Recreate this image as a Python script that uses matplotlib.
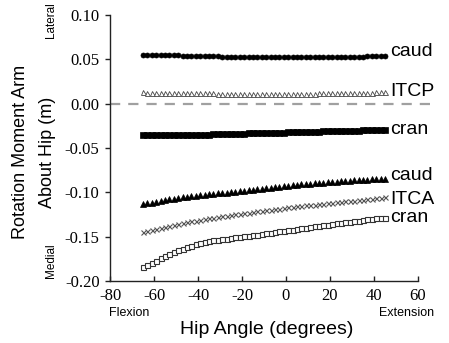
import matplotlib
matplotlib.use("Agg")
import matplotlib.pyplot as plt

plt.rcParams['axes.unicode_minus'] = False

# Hip angle (degrees)
hip_angle = [-65, -63, -61, -59, -57, -55, -53, -51,
             -49, -47, -45, -43, -41, -39, -37, -35,
             -33, -31, -29, -27, -25, -23, -21, -19,
             -17, -15, -13, -11, -9, -7, -5, -3,
             -1, 1, 3, 5, 7, 9, 11, 13,
             15, 17, 19, 21, 23, 25, 27, 29,
             31, 33, 35, 37, 39, 41, 43, 45]

itcp_caud = [.0552, .0551, .0551, .0549, .0548, .0546, .0546, .0545,
             .0544, .0541, .0539, .0539, .0537, .0536, .0535, .0534,
             .0533, .0532, .0531, .0531, .0530, .0529, .0528, .0527,
             .0526, .0526, .0525, .0525, .0525, .0524, .0524, .0524,
             .0524, .0523, .0523, .0522, .0522, .0522, .0523, .0523,
             .0522, .0521, .0521, .0522, .0523, .0524, .0526, .0527,
             .0528, .0530, .0531, .0533, .0535, .0537, .0539, .0541]

itcp_mid = [.0126, .0125, .0125, .0124, .0123, .0122, .0122, .0121,
            .0121, .0120, .0119, .0119, .0118, .0117, .0116, .0116,
            .0115, .0114, .0114, .0113, .0113, .0112, .0112, .0112,
            .0111, .0111, .0111, .0111, .0110, .0110, .0110, .0111,
            .0111, .0111, .0112, .0112, .0112, .0113, .0113, .0114,
            .0115, .0115, .0116, .0117, .0117, .0118, .0119, .0120,
            .0121, .0122, .0123, .0124, .0125, .0126, .0127, .0128]

itcp_cran = [-.0357, -.0357, -.0356, -.0356, -.0355, -.0355, -.0354, -.0354,
             -.0353, -.0353, -.0352, -.0352, -.0351, -.0350, -.0349, -.0348,
             -.0346, -.0345, -.0343, -.0342, -.0341, -.0340, -.0339, -.0338,
             -.0336, -.0335, -.0334, -.0333, -.0331, -.0330, -.0329, -.0328,
             -.0326, -.0325, -.0323, -.0322, -.0320, -.0319, -.0318, -.0316,
             -.0315, -.0313, -.0312, -.0311, -.0309, -.0308, -.0307, -.0306,
             -.0304, -.0303, -.0301, -.0300, -.0298, -.0297, -.0295, -.0294]

itca_caud = [-.1135, -.1125, -.1115, -.1106, -.1097, -.1088, -.1080, -.1072,
             -.1064, -.1057, -.1050, -.1044, -.1038, -.1032, -.1027, -.1022,
             -.1017, -.1012, -.1007, -.1002, -.0997, -.0992, -.0987, -.0982,
             -.0977, -.0971, -.0965, -.0959, -.0953, -.0947, -.0941, -.0935,
             -.0929, -.0924, -.0919, -.0914, -.0910, -.0906, -.0902, -.0898,
             -.0894, -.0890, -.0886, -.0882, -.0878, -.0875, -.0872, -.0869,
             -.0866, -.0863, -.0860, -.0857, -.0854, -.0851, -.0848, -.0845]

itca_mid = [-.1450, -.1438, -.1426, -.1414, -.1402, -.1390, -.1379, -.1368,
            -.1357, -.1347, -.1337, -.1327, -.1318, -.1310, -.1302, -.1294,
            -.1286, -.1278, -.1270, -.1263, -.1256, -.1249, -.1242, -.1235,
            -.1228, -.1221, -.1214, -.1207, -.1201, -.1195, -.1189, -.1183,
            -.1177, -.1171, -.1165, -.1159, -.1153, -.1148, -.1143, -.1138,
            -.1133, -.1128, -.1123, -.1118, -.1113, -.1108, -.1103, -.1098,
            -.1093, -.1088, -.1083, -.1078, -.1073, -.1068, -.1063, -.1058]

itca_cran = [-.1845, -.1820, -.1795, -.1770, -.1746, -.1722, -.1699, -.1677,
             -.1656, -.1636, -.1617, -.1600, -.1584, -.1570, -.1558, -.1548,
             -.1540, -.1533, -.1527, -.1521, -.1515, -.1509, -.1503, -.1497,
             -.1490, -.1483, -.1476, -.1469, -.1462, -.1455, -.1448, -.1441,
             -.1434, -.1427, -.1420, -.1413, -.1406, -.1399, -.1392, -.1385,
             -.1378, -.1371, -.1364, -.1357, -.1350, -.1343, -.1336, -.1330,
             -.1324, -.1318, -.1312, -.1306, -.1300, -.1295, -.1290, -.1285]

series_labels = ["caud", "ITCP", "cran", "caud", "ITCA", "cran"]
x_ticks = [-80, -60, -40, -20, 0, 20, 40, 60]
y_ticks = [-0.20, -0.15, -0.10, -0.05, 0.00, 0.05, 0.10]

W, H = 449, 343
fig = plt.figure(figsize=(W / 100, H / 100), dpi=100)
ax = fig.add_axes([110 / W, 1 - 281 / H, 308 / W, 266 / H])

ax.plot([-80, 65.5], [0, 0], color='#a0a0a0', lw=1.6, dashes=(4.6, 3.6),
        clip_on=False, zorder=1)

ax.plot(hip_angle, itcp_caud, 'o', ms=3.6, mfc='black', mec='black', mew=0.5, ls='none')
ax.plot(hip_angle, itcp_mid, '^', ms=3.6, mfc='white', mec='#444444', mew=0.6, ls='none')
ax.plot(hip_angle, itcp_cran, 's', ms=4.2, mfc='black', mec='black', mew=0.5, ls='none')
ax.plot(hip_angle, itca_caud, '^', ms=3.8, mfc='black', mec='black', mew=0.5, ls='none')
ax.plot(hip_angle, itca_mid, 'x', ms=3.6, color='#555555', mew=0.8, ls='none')
ax.plot(hip_angle, itca_cran, 's', ms=3.6, mfc='white', mec='#333333', mew=0.8, ls='none')

ax.set_xlim(-80, 60)
ax.set_ylim(-0.20, 0.10)
ax.set_xticks(x_ticks)
ax.set_yticks(y_ticks)
ax.set_xticklabels([str(v) for v in x_ticks], family='Liberation Serif', fontsize=12)
ax.set_yticklabels(['%.2f' % v for v in y_ticks], family='Liberation Serif', fontsize=12)
for s in ['top', 'right']:
    ax.spines[s].set_visible(False)
for s in ['left', 'bottom']:
    ax.spines[s].set_linewidth(1.0)
    ax.spines[s].set_color('#222222')
ax.tick_params(axis='x', direction='in', length=3.5, width=1.0, pad=5, color='#222222')
ax.tick_params(axis='y', direction='out', length=3.5, width=1.0, pad=4, color='#222222')

sans = 'Liberation Sans'
# right side series labels
label_y_px = [52, 92, 130, 176, 199, 217]
for lab, py in zip(series_labels, label_y_px):
    fig.text(390 / W, 1 - py / H, lab, family=sans, fontsize=14, va='center', ha='left')

fig.text(21 / W, 1 - 152 / H, 'Rotation Moment Arm', family=sans, fontsize=13,
         rotation=90, va='center', ha='center')
fig.text(48 / W, 1 - 152 / H, 'About Hip (m)', family=sans, fontsize=13,
         rotation=90, va='center', ha='center')
fig.text(51 / W, 1 - 20 / H, 'Lateral', family=sans, fontsize=8.5,
         rotation=90, va='center', ha='center')
fig.text(51 / W, 1 - 261 / H, 'Medial', family=sans, fontsize=8.5,
         rotation=90, va='center', ha='center')
fig.text(129 / W, 1 - 313 / H, 'Flexion', family=sans, fontsize=9, va='center', ha='center')
fig.text(407 / W, 1 - 313 / H, 'Extension', family=sans, fontsize=9, va='center', ha='center')
fig.text(267 / W, 1 - 329 / H, 'Hip Angle (degrees)', family=sans, fontsize=14,
         va='center', ha='center')

fig.savefig('out.png', dpi=100)
